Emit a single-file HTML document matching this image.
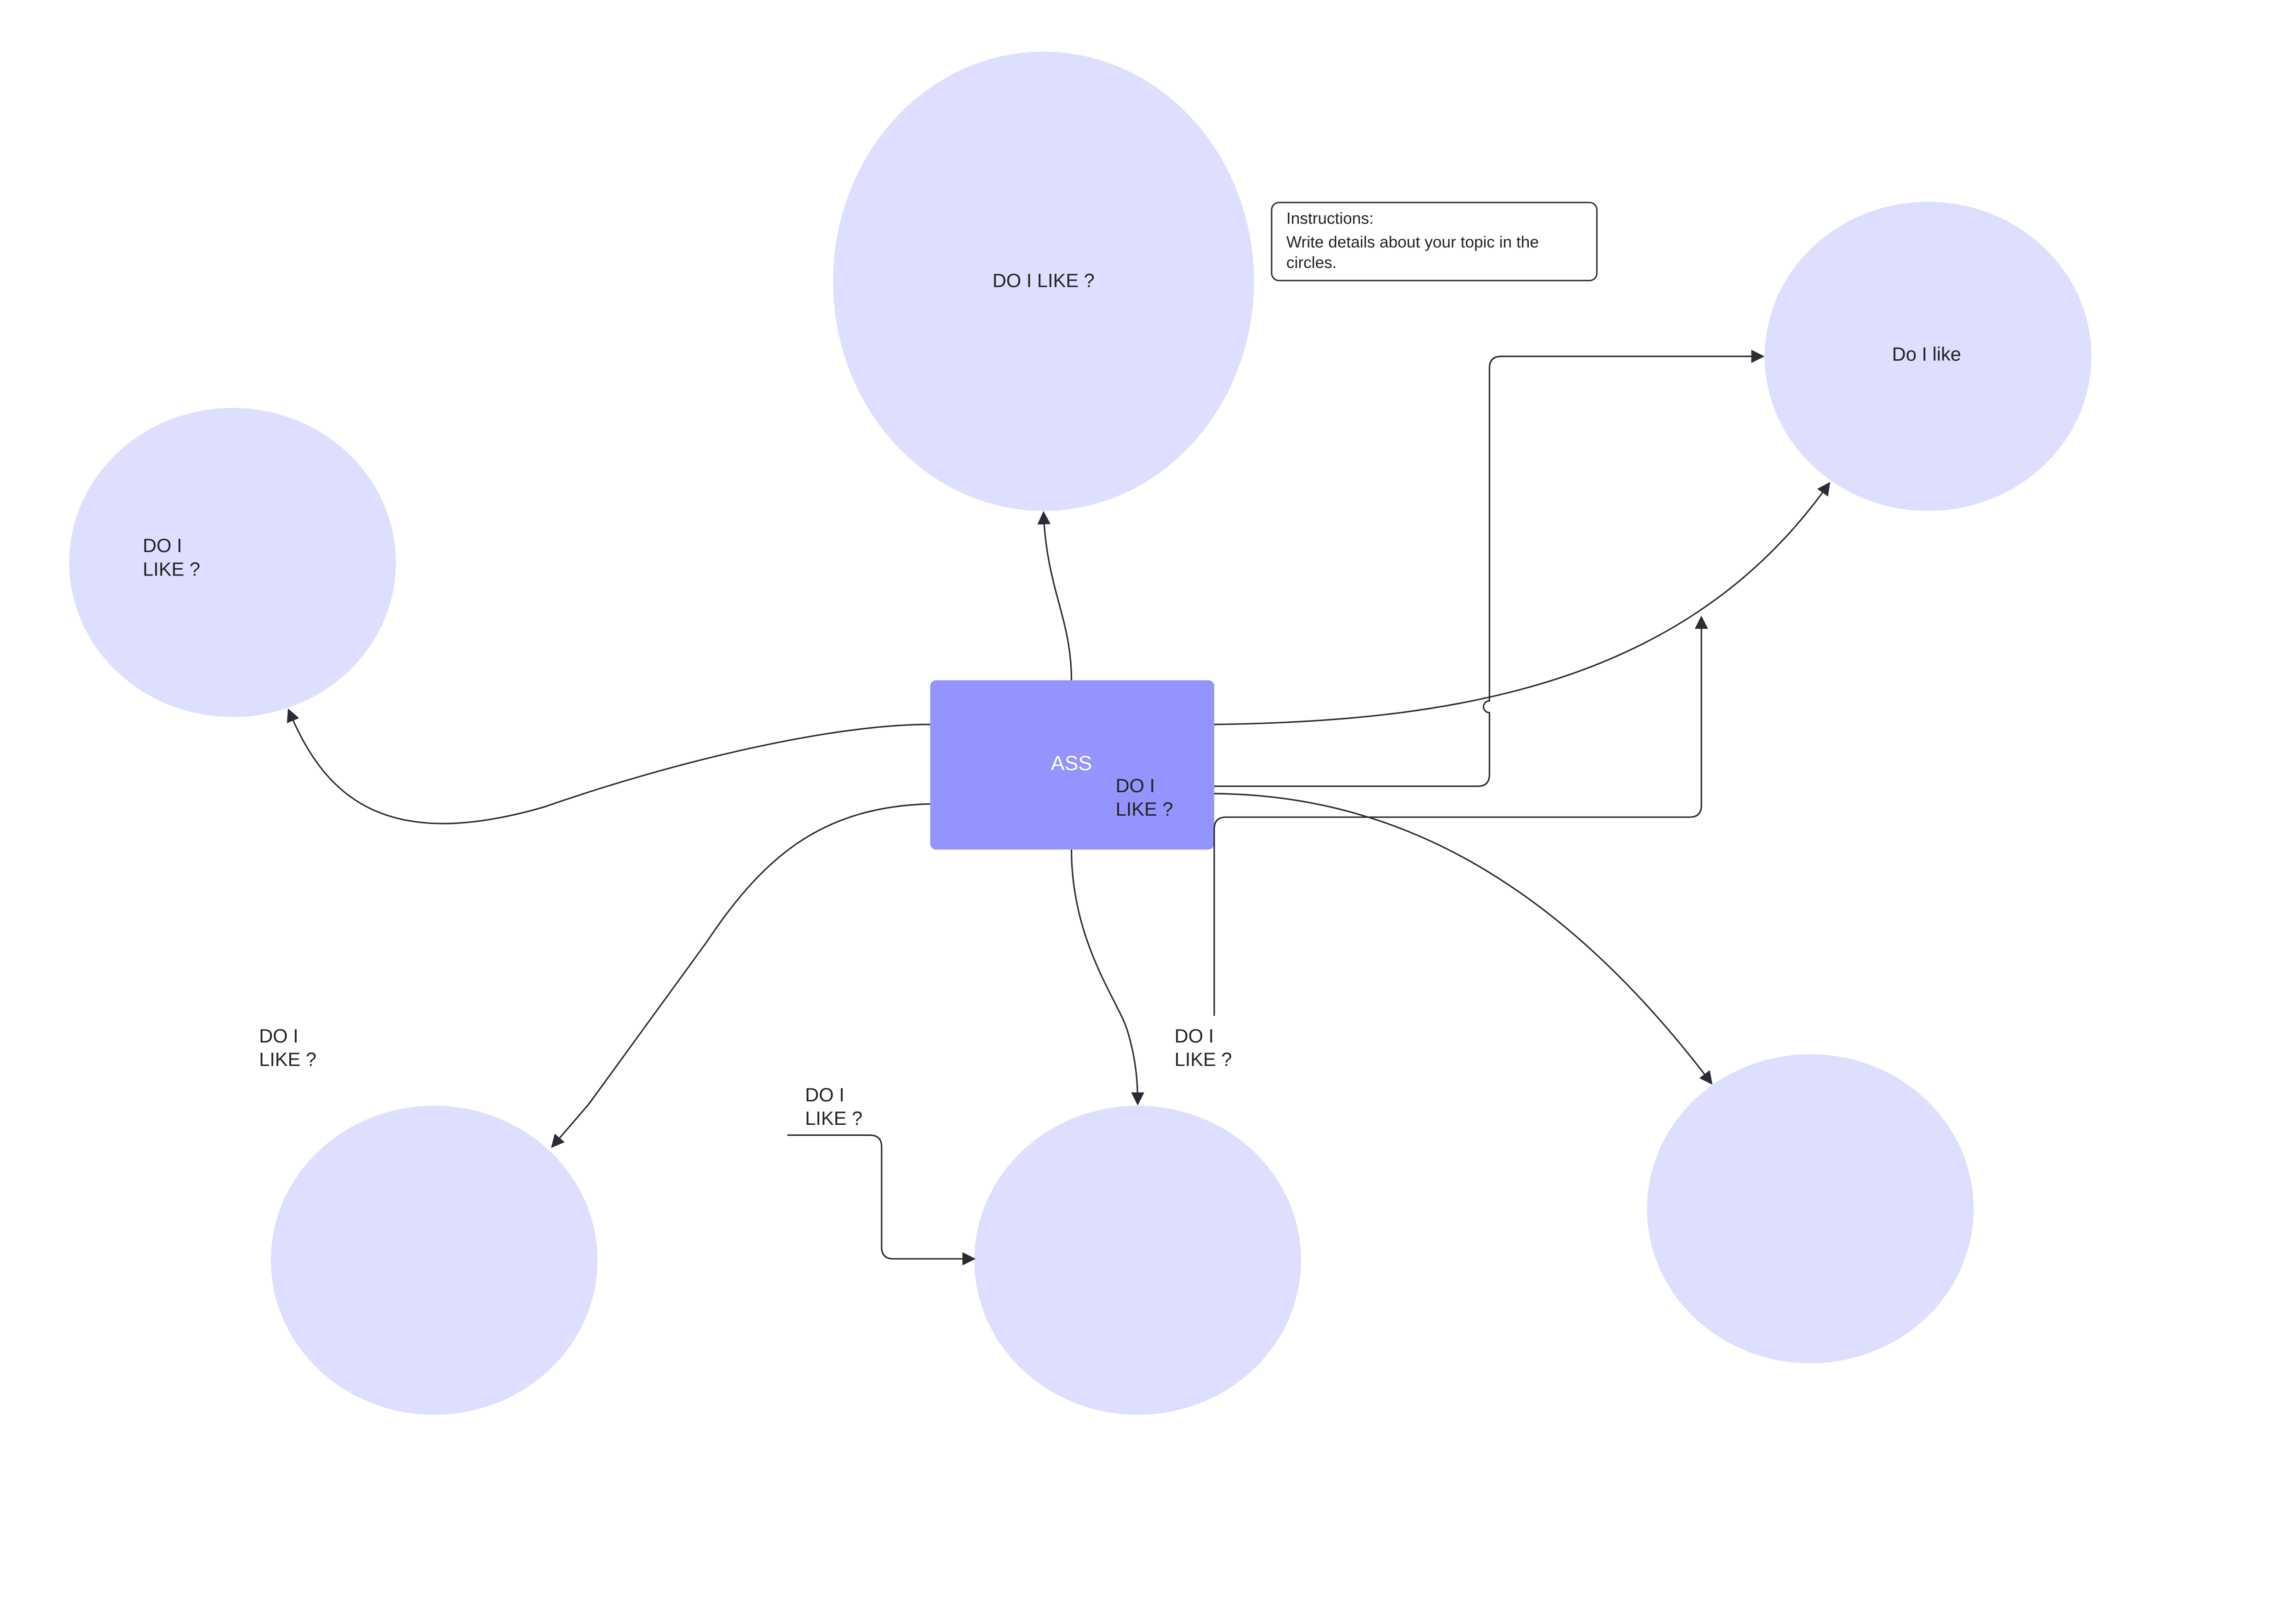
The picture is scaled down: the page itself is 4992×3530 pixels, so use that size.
<!DOCTYPE html>
<html><head><meta charset="utf-8"><style>html,body{margin:0;padding:0;background:#fff}svg{display:block}</style></head>
<body>
<svg width="4992" height="3530" viewBox="0 0 1560 1103" xmlns="http://www.w3.org/2000/svg" font-family="Liberation Sans, sans-serif">
<defs>
<marker id="a" viewBox="0 0 10 10" refX="9" refY="5" markerWidth="9" markerHeight="9" markerUnits="userSpaceOnUse" orient="auto">
<path d="M0,0 L10,5 L0,10 z" fill="#2b2b33"/></marker>
</defs>
<rect width="1560" height="1103" fill="#fff"/>
<g fill="#dedeff">
<ellipse cx="709" cy="191" rx="143" ry="156"/>
<ellipse cx="158" cy="382" rx="111" ry="105"/>
<ellipse cx="1310" cy="242" rx="111" ry="105"/>
<ellipse cx="295" cy="856" rx="111" ry="105"/>
<ellipse cx="773" cy="856" rx="111" ry="105"/>
<ellipse cx="1230" cy="821" rx="111" ry="105"/>
</g>
<rect x="632" y="462" width="193" height="115" rx="4" fill="#9494ff"/>
<rect x="864" y="137.5" width="221" height="53" rx="5" fill="#fff" stroke="#333" stroke-width="1"/>
<g fill="none" stroke="#2b2b33" stroke-width="1" marker-end="url(#a)">
<path d="M728,462 C728,420 711,400 709,348"/>
<path d="M632,492 C560,492 450,520 370,548 C260,580 220,540 196,482"/>
<path d="M825,492 C1000,490 1150,460 1243,328"/>
<path d="M825,534 H1004 Q1012,534 1012,526 V484 A4,4 0 0 1 1012,476 V250 Q1012,242 1020,242 H1198"/>
<path d="M825,690 V563 Q825,555 833,555 H1148 Q1156,555 1156,547 V419"/>
<path d="M632,546 C560,548 520,580 480,640 L400,750 L375,779"/>
<path d="M728,577 C728,640 760,680 766,700 C772,720 773,735 773,750"/>
<path d="M825,539 C950,540 1060,600 1163,736"/>
<path d="M535,771 H591 Q599,771 599,779 V847 Q599,855 607,855 H662"/>
</g>
<g font-size="13" fill="#222">
<text x="709" y="195" text-anchor="middle">DO I LIKE ?</text>
<text x="97" y="375">DO I</text><text x="97" y="391">LIKE ?</text>
<text x="1309" y="245" text-anchor="middle">Do I like</text>
<text x="758" y="538">DO I</text><text x="758" y="554">LIKE ?</text>
<text x="176" y="708">DO I</text><text x="176" y="724">LIKE ?</text>
<text x="547" y="748">DO I</text><text x="547" y="764">LIKE ?</text>
<text x="798" y="708">DO I</text><text x="798" y="724">LIKE ?</text>
<text x="728" y="523" text-anchor="middle" fill="#fff" font-size="14">ASS</text>
</g>
<g font-size="11" fill="#222">
<text x="874" y="152">Instructions:</text>
<text x="874" y="168">Write details about your topic in the</text>
<text x="874" y="182">circles.</text>
</g>
</svg>
</body></html>
